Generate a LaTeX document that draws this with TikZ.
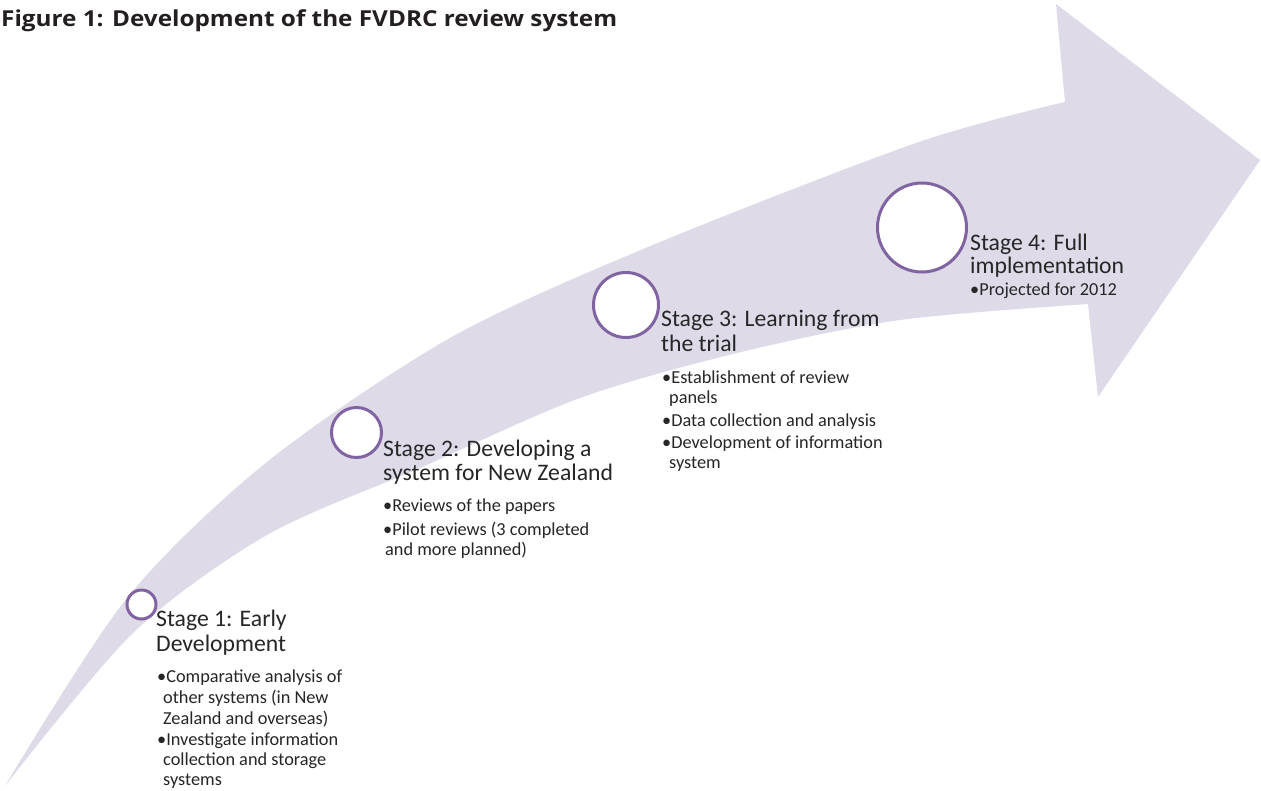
\documentclass[tikz,border=0pt]{standalone}
\usepackage{fontspec}
\usepackage{graphicx}
\setmainfont{Carlito}
\newfontfamily\titlefont{Open Sans}
\definecolor{arrowfill}{HTML}{DEDAE8}
\definecolor{ringcol}{HTML}{8064A2}
\definecolor{txt}{HTML}{262626}
\definecolor{titlecol}{HTML}{231F20}
\begin{document}
\begin{tikzpicture}[x=1pt,y=-1pt,
  ring/.style={circle, draw=ringcol, line width=3pt, fill=white, inner sep=0pt},
  head/.style={anchor=base west, inner sep=0pt, text=txt, font=\fontsize{23.7}{25}\selectfont},
  item/.style={anchor=base west, inner sep=0pt, text=txt, font=\fontsize{18.3}{21}\selectfont}]
\fill[white] (0,0) rectangle (1261,790);
\useasboundingbox (0,0) rectangle (1261,790);
% curved arrow
\fill[arrowfill] plot[smooth] coordinates {(5,786) (127,598) (267,462) (450,338) (648,247) (916,143) (1065,102)}
  -- (1056,4) -- (1260,160) -- (1098,397) -- (1088,304)
  -- plot[smooth] coordinates {(1088,304) (900,320) (737,353) (580,398) (420,468) (267,535) (133,633) (5,786)} -- cycle;
% title
\node[anchor=base west, inner sep=0pt, text=titlecol] (title) at (1,26) {\resizebox{616pt}{\height}{\titlefont\bfseries\fontsize{22}{26}\selectfont Figure 1: Development of the FVDRC review system}};
% circles
\node[ring, minimum size=29pt] (c1) at (141.5,604.5) {};
\node[ring, minimum size=50pt] (c2) at (356.5,432.5) {};
\node[ring, minimum size=65pt] (c3) at (626,305) {};
\node[ring, minimum size=89pt] (c4) at (922,227.5) {};
% stage 1
\node[head] (s1a) at (156,626.7) {Stage 1: Early};
\node[head] (s1b) at (156,651.7) {Development};
\node[item] (s1c) at (157,682.7) {•Comparative analysis of};
\node[item] (s1d) at (163,703.3) {other systems (in New};
\node[item] (s1e) at (163,724) {Zealand and overseas)};
\node[item] (s1f) at (157,745) {•Investigate information};
\node[item] (s1g) at (163,765) {collection and storage};
\node[item] (s1h) at (163,785) {systems};
% stage 2
\node[head] (s2a) at (383,456.7) {Stage 2: Developing a};
\node[head] (s2b) at (383,480) {system for New Zealand};
\node[item] (s2c) at (383,511.7) {•Reviews of the papers};
\node[item] (s2d) at (383,535) {•Pilot reviews (3 completed};
\node[item] (s2e) at (385,555) {and more planned)};
% stage 3
\node[head] (s3a) at (661,326.7) {Stage 3: Learning from};
\node[head] (s3b) at (661,351.7) {the trial};
\node[item] (s3c) at (662,383) {•Establishment of review};
\node[item] (s3d) at (669,403) {panels};
\node[item] (s3e) at (662,426) {•Data collection and analysis};
\node[item] (s3f) at (662,448) {•Development of information};
\node[item] (s3g) at (669,468) {system};
% stage 4
\node[head] (s4a) at (970,250) {Stage 4: Full};
\node[head] (s4b) at (970,273.3) {implementation};
\node[item] (s4c) at (970,295) {•Projected for 2012};
\end{tikzpicture}
\end{document}
